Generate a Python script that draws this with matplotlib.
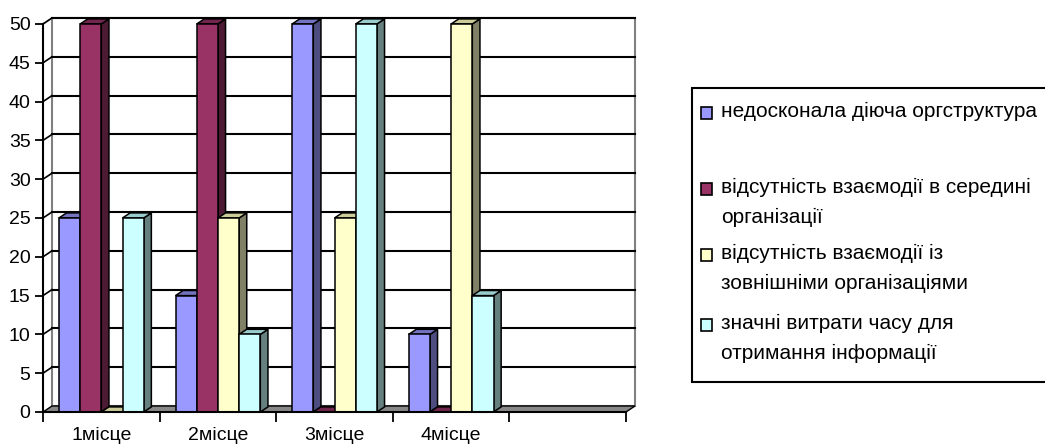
import numpy as np
import matplotlib.pyplot as plt
from matplotlib.patches import Polygon, Rectangle

plt.rcParams['font.family'] = ['Liberation Sans', 'DejaVu Sans']

## Дані
categories = ['1місце', '2місце', '3місце', '4місце', '']
series_names = ['недосконала діюча оргструктура',
                'відсутність взаємодії в середині\nорганізації',
                'відсутність взаємодії із\nзовнішніми організаціями',
                'значні витрати часу для\nотримання інформації']
values = [[25, 15, 50, 10, 0],   # недосконала діюча оргструктура
          [50, 50, 0, 0, 0],     # відсутність взаємодії в середині організації
          [0, 25, 25, 50, 0],    # відсутність взаємодії із зовнішніми організаціями
          [25, 10, 50, 15, 0]]   # значні витрати часу для отримання інформації
n_drawn = 4  # п'ятий слот порожній

## Кольори (фронт, верх, бік)
face = ['#9999FF', '#993366', '#FFFFCC', '#CCFFFF']
top = ['#7373C0', '#73264D', '#CCCC99', '#99CCCC']
side = ['#4D4D80', '#4D1A33', '#808066', '#668080']

W, H = 1045, 446
fig = plt.figure(figsize=[W / 100, H / 100], dpi=100)
ax = fig.add_axes([43 / W, (H - 412) / H, 583 / W, 388 / H])
ax.set_xlim(0, 5)
ax.set_ylim(0, 50)
ax.patch.set_alpha(0)

## глибина стінки в одиницях даних
dx = 9 / 583 * 5
dy = 6 / 388 * 50
bdx, bdy = dx * 0.85, dy * 0.85

## задня стінка та ліва бічна
ax.add_patch(Polygon([[dx, dy], [5 + dx, dy], [5 + dx, 50 + dy], [dx, 50 + dy]],
                     closed=True, fc='white', ec='#808080', lw=1.5, clip_on=False, zorder=1))
ax.plot([0, dx], [50, 50 + dy], color='#A0A0A0', lw=1.2, clip_on=False, zorder=1)
for v in range(5, 51, 5):
    ax.plot([dx, 5 + dx], [v + dy, v + dy], color='black', lw=1.5, clip_on=False, zorder=2)
    ax.plot([0, dx], [v, v + dy], color='black', lw=1.2, clip_on=False, zorder=2)

## підлога
ax.add_patch(Polygon([[0, 0], [5, 0], [5 + dx, dy], [dx, dy]], closed=True,
                     fc='#888888', ec='black', lw=1.0, clip_on=False, zorder=3))

## стовпчики
w = 1 / 5.5
for c in range(n_drawn):
    for s in range(n_drawn):
        v = values[s][c]
        x0 = c + w * 0.75 + s * w
        z = 4 + c * 10 + s
        ax.add_patch(Polygon([[x0 + w, 0], [x0 + w + bdx, bdy], [x0 + w + bdx, v + bdy], [x0 + w, v]],
                             closed=True, fc=side[s], ec='black', lw=1.1, clip_on=False, zorder=z))
        ax.add_patch(Polygon([[x0, v], [x0 + bdx, v + bdy], [x0 + w + bdx, v + bdy], [x0 + w, v]],
                             closed=True, fc=top[s], ec='black', lw=1.1, clip_on=False, zorder=z))
        if v > 0:
            ax.add_patch(Rectangle((x0, 0), w, v, fc=face[s], ec='black', lw=1.1,
                                   clip_on=False, zorder=z))

## осі
for sp in ['top', 'right']:
    ax.spines[sp].set_visible(False)
ax.spines['left'].set_linewidth(1.5)
ax.spines['bottom'].set_linewidth(1.5)
ax.spines['left'].set_zorder(60)
ax.spines['bottom'].set_zorder(60)
ax.set_yticks(np.arange(0, 51, 5))
ax.tick_params(axis='y', direction='out', length=6, width=1.3, pad=3, labelsize=14)
ax.set_xticks(np.arange(0, 6))
ax.set_xticklabels([])
ax.tick_params(axis='x', which='major', direction='out', length=7, width=1.3)
ax.set_xticks(np.arange(5) + 0.5, minor=True)
ax.set_xticklabels(categories, minor=True)
ax.tick_params(axis='x', which='minor', length=0, pad=11, labelsize=14)

## легенда
fig.patches.append(Rectangle((692 / W, (H - 382) / H), 400 / W, 294 / H, transform=fig.transFigure,
                             fc='white', ec='black', lw=1.5))
entry_y = [113, 189, 255, 325]
for s in range(n_drawn):
    yc = entry_y[s]
    fig.patches.append(Rectangle((701 / W, (H - yc - 6) / H), 11 / W, 12 / H,
                                 transform=fig.transFigure, fc=face[s], ec='black', lw=1.2))
    fig.text(721 / W, (H - yc + 11) / H, series_names[s], fontsize=15, va='top', ha='left',
             linespacing=1.75)

plt.savefig('out.png', dpi=100)
